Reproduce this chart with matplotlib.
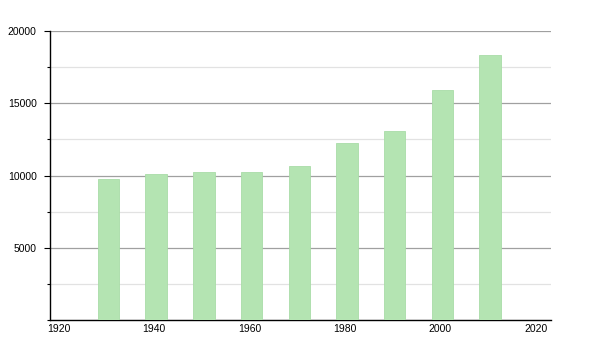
import matplotlib
matplotlib.use("Agg")
import matplotlib.pyplot as plt
from matplotlib.ticker import MultipleLocator
from matplotlib.transforms import ScaledTranslation

years = [1930, 1940, 1950, 1960, 1970, 1980, 1990, 2000, 2010]
population = [9760, 10100, 10240, 10230, 10680, 12250, 13100, 15900, 18360]
x_ticks = [1920, 1940, 1960, 1980, 2000, 2020]
y_ticks = [5000, 10000, 15000, 20000]

plt.rcParams["font.family"] = ["Liberation Sans", "DejaVu Sans"]

fig = plt.figure(figsize=(6, 3.5), dpi=100)
ax = fig.add_axes([50 / 600, 30 / 350, 501 / 600, 289 / 350])

ax.bar(years, population, width=4.5, align="edge",
       color="#b4e4b2", edgecolor="#a9dca7", linewidth=0.6, zorder=3)

ax.set_xlim(1920, 2025)
ax.set_ylim(0, 20000)

ax.set_yticks(y_ticks)
ax.yaxis.set_minor_locator(MultipleLocator(2500))
ax.grid(axis="y", which="major", color="#a0a0a0", linewidth=0.9, zorder=0)
ax.grid(axis="y", which="minor", color="#e2e2e2", linewidth=0.9, zorder=0)

ax.set_xticks(x_ticks)
ax.set_xticklabels([str(t) for t in x_ticks], ha="left")
ax.tick_params(axis="x", length=0, pad=3, labelsize=7.5)
ax.tick_params(axis="y", which="major", length=4.5, width=0.8, labelsize=7.5, pad=5)
ax.tick_params(axis="y", which="minor", length=2, width=0.8)

# shift x labels a little to the left like the original
shift = ScaledTranslation(-3 / 100, 0, fig.dpi_scale_trans)
for lbl in ax.get_xticklabels():
  lbl.set_transform(lbl.get_transform() + shift)

for side in ("top", "right"):
  ax.spines[side].set_visible(False)
ax.spines["left"].set_linewidth(1)
ax.spines["bottom"].set_linewidth(1)

fig.savefig("out.png", dpi=100)
